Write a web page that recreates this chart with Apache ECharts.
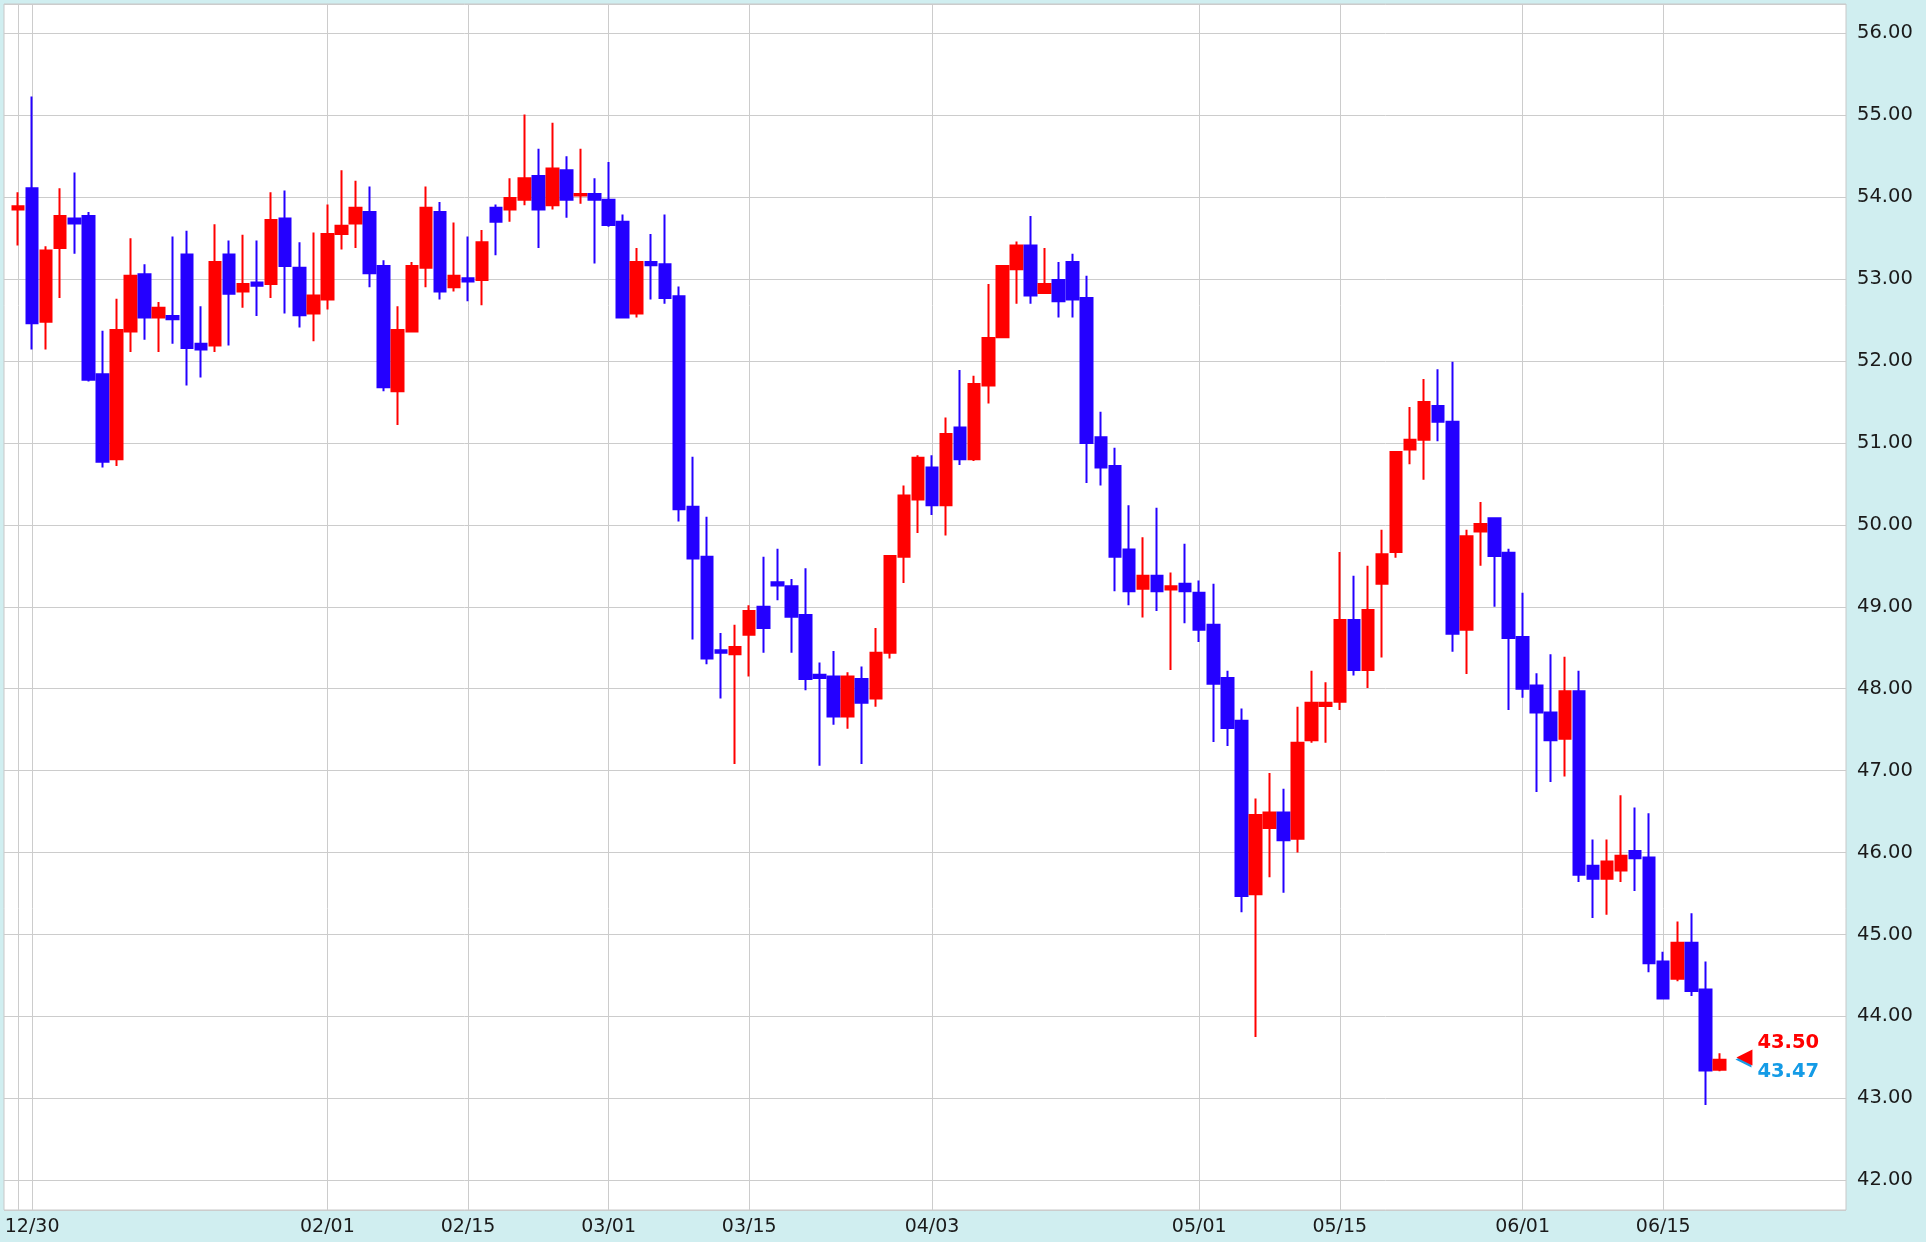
<!DOCTYPE html>
<html>
<head>
<meta charset="utf-8">
<script src="https://cdn.jsdelivr.net/npm/echarts@6/dist/echarts.min.js"></script>
<style>
  html, body { margin: 0; padding: 0; background: #d0eef0; }
  #chart { width: 1926px; height: 1242px; }
</style>
</head>
<body>
<div id="chart"></div>
<script>
// ---- data ----
const openVals = [
  53.85,54.11,52.48,53.38,53.74,53.77,51.84,50.80,52.36,53.06,
  52.53,52.55,53.30,52.21,52.19,53.30,52.85,52.96,52.94,53.74,
  53.14,52.58,52.75,53.55,53.68,53.82,53.16,51.63,52.36,53.14,
  53.82,52.90,53.01,52.99,53.87,53.85,53.97,54.26,53.90,54.33,
  54.02,54.04,53.97,53.70,52.58,53.21,53.18,52.79,50.22,49.61,
  48.47,48.42,48.66,49.00,49.30,49.25,48.90,48.17,48.15,47.66,
  48.12,47.88,48.44,49.61,50.31,50.70,50.24,51.19,50.80,51.70,
  52.29,53.12,53.41,52.83,52.99,53.21,52.77,51.07,50.72,49.70,
  49.22,49.38,49.21,49.28,49.17,48.78,48.13,47.61,45.49,46.30,
  46.49,46.17,47.37,47.79,47.84,48.84,48.23,49.28,49.67,50.92,
  51.04,51.45,51.26,48.72,49.92,50.08,49.66,48.63,48.04,47.71,
  47.39,47.97,45.84,45.68,45.78,46.02,45.94,44.67,44.46,44.90,
  44.33,43.35
];
const closeVals = [
  53.89,52.46,53.35,53.77,53.68,51.77,50.77,52.38,53.04,52.53,
  52.65,52.51,52.16,52.14,53.21,52.82,52.94,52.92,53.72,53.16,
  52.56,52.80,53.55,53.65,53.87,53.07,51.68,52.38,53.16,53.87,
  52.85,53.04,52.97,53.45,53.70,53.99,54.23,53.85,54.35,53.97,
  54.04,53.97,53.66,52.53,53.21,53.17,52.77,50.19,49.59,48.37,
  48.44,48.51,48.95,48.74,49.26,48.88,48.12,48.13,47.66,48.15,
  47.83,48.44,49.62,50.36,50.82,50.24,51.11,50.80,51.72,52.28,
  53.16,53.41,52.80,52.94,52.73,52.75,51.00,50.70,49.61,49.19,
  49.38,49.19,49.25,49.19,48.72,48.06,47.52,45.47,46.46,46.49,
  46.15,47.34,47.83,47.83,48.84,48.23,48.96,49.64,50.89,51.04,
  51.50,51.26,48.67,49.86,50.01,49.62,48.62,48.00,47.71,47.37,
  47.97,45.73,45.68,45.89,45.96,45.93,44.65,44.22,44.90,44.31,
  43.34,43.47
];
const lowVals = [
  53.41,52.14,52.14,52.77,53.31,51.75,50.70,50.72,52.11,52.26,
  52.11,52.21,51.70,51.80,52.11,52.19,52.65,52.55,52.77,52.58,
  52.41,52.24,52.63,53.36,53.38,52.90,51.63,51.22,52.36,52.90,
  52.75,52.85,52.73,52.68,53.29,53.70,53.90,53.38,53.85,53.75,
  53.92,53.19,53.64,52.52,52.53,52.75,52.70,50.04,48.60,48.30,
  47.88,47.08,48.15,48.44,49.08,48.44,47.98,47.06,47.56,47.51,
  47.08,47.78,48.37,49.29,49.90,50.12,49.87,50.73,50.78,51.48,
  52.28,52.70,52.70,52.82,52.53,52.53,50.51,50.48,49.19,49.02,
  48.87,48.95,48.23,48.80,48.57,47.35,47.30,45.27,43.75,45.70,
  45.51,46.00,47.34,47.34,47.74,48.16,48.01,48.38,49.60,50.74,
  50.55,51.02,48.45,48.18,49.50,49.00,47.74,47.89,46.74,46.86,
  46.93,45.64,45.20,45.24,45.64,45.53,44.54,44.21,44.43,44.25,
  42.92,43.33
];
const highVals = [
  54.06,55.23,53.40,54.11,54.30,53.82,52.37,52.76,53.50,53.18,
  52.72,53.52,53.59,52.67,53.67,53.47,53.54,53.47,54.06,54.08,
  53.45,53.57,53.91,54.33,54.20,54.13,53.23,52.67,53.21,54.13,
  53.94,53.69,53.52,53.60,53.91,54.23,55.01,54.59,54.91,54.50,
  54.59,54.23,54.43,53.79,53.38,53.55,53.79,52.91,50.83,50.10,
  48.68,48.78,49.02,49.61,49.71,49.34,49.47,48.32,48.46,48.20,
  48.27,48.74,49.63,50.48,50.85,50.85,51.31,51.89,51.82,52.94,
  53.17,53.46,53.77,53.38,53.21,53.31,53.04,51.38,50.94,50.24,
  49.85,50.21,49.42,49.77,49.32,49.28,48.22,47.76,46.66,46.97,
  46.78,47.78,48.22,48.08,49.67,49.38,49.50,49.94,50.90,51.44,
  51.78,51.90,51.99,49.94,50.28,50.09,49.71,49.17,48.19,48.42,
  48.39,48.22,46.16,46.16,46.70,46.55,46.48,44.79,45.16,45.26,
  44.67,43.55
];
// x-axis tick labels: trading-day index -> label ('' = grid line only)
const tickIndex = [0, 1, 22, 32, 42, 52, 65, 84, 94, 107, 117];
const tickText  = ['', '12/30', '02/01', '02/15', '03/01', '03/15', '04/03', '05/01', '05/15', '06/01', '06/15'];
// latest price marker
const lastPrice = 43.50;
const lastPriceText = '43.50';
const lastCloseText = '43.47';

// ---- build ----
const LEAD = 1;      // empty slot before first day
const TRAIL = 9;     // empty slots after last day
const nDays = openVals.length;
const categories = [];
for (let c = 0; c < LEAD + nDays + TRAIL; c++) categories.push('c' + c);

const labelMap = {};
tickIndex.forEach((d, k) => { labelMap[d + LEAD] = tickText[k]; });

const candleData = openVals.map((o, i) => [i + LEAD, o, closeVals[i], lowVals[i], highVals[i]]);
const lastCat = nDays - 1 + LEAD;

const UP = '#ff0000';
const DOWN = '#2400ff';

const chart = echarts.init(document.getElementById('chart'), null, { renderer: 'canvas' });
chart.setOption({
  animation: false,
  backgroundColor: '#d0eef0',
  grid: {
    left: 4, right: 80, top: 4, bottom: 32,
    show: true, backgroundColor: '#ffffff', borderColor: '#c8c8c8', borderWidth: 1
  },
  xAxis: {
    type: 'category',
    data: categories,
    boundaryGap: false,
    axisLine: { show: false },
    axisTick: { show: false },
    axisLabel: {
      interval: (idx) => labelMap[idx] !== undefined && labelMap[idx] !== '',
      formatter: (v, idx) => labelMap[idx] || '',
      color: '#1a1a1a',
      fontFamily: 'DejaVu Sans',
      fontSize: 19,
      margin: 8
    },
    splitLine: {
      show: true,
      interval: (idx) => labelMap[idx] !== undefined,
      lineStyle: { color: '#cccccc', width: 1 }
    }
  },
  yAxis: {
    type: 'value',
    position: 'right',
    min: 41.637,
    max: 56.358,
    splitNumber: 14,
    minInterval: 1,
    maxInterval: 1,
    scale: true,
    axisLine: { show: false },
    axisTick: { show: false },
    axisLabel: {
      formatter: (v) => Math.abs(v - Math.round(v)) < 1e-6 ? v.toFixed(2) : '',
      color: '#1a1a1a',
      fontFamily: 'DejaVu Sans',
      fontSize: 19.5,
      margin: 11
    },
    splitLine: { show: true, lineStyle: { color: '#cccccc', width: 1 } }
  },
  series: [{
    type: 'candlestick',
    data: candleData,
    encode: { x: 0, y: [1, 2, 3, 4] },
    barWidth: 12,
    itemStyle: {
      color: UP, color0: DOWN,
      borderColor: UP, borderColor0: DOWN,
      borderWidth: 2
    },
    markPoint: {
      silent: true,
      data: [
        {
          coord: [lastCat, lastPrice],
          symbol: 'triangle', symbolSize: [16, 16], symbolRotate: 90, symbolOffset: [25, 0],
          itemStyle: { color: UP, shadowColor: '#1a9be6', shadowOffsetX: -1, shadowOffsetY: 2, shadowBlur: 0 },
          label: { show: false }
        },
        {
          coord: [lastCat, lastPrice],
          symbol: 'circle', symbolSize: 1,
          itemStyle: { color: 'rgba(0,0,0,0)' },
          label: {
            show: true, position: 'inside', formatter: lastPriceText,
            align: 'left', verticalAlign: 'middle', offset: [38, -14],
            color: UP, fontFamily: 'DejaVu Sans', fontWeight: 'bold', fontSize: 19.5
          }
        },
        {
          coord: [lastCat, lastPrice],
          symbol: 'circle', symbolSize: 1,
          itemStyle: { color: 'rgba(0,0,0,0)' },
          label: {
            show: true, position: 'inside', formatter: lastCloseText,
            align: 'left', verticalAlign: 'middle', offset: [38, 15],
            color: '#149be6', fontFamily: 'DejaVu Sans', fontWeight: 'bold', fontSize: 19.5
          }
        }
      ]
    }
  }]
});
</script>
</body>
</html>
